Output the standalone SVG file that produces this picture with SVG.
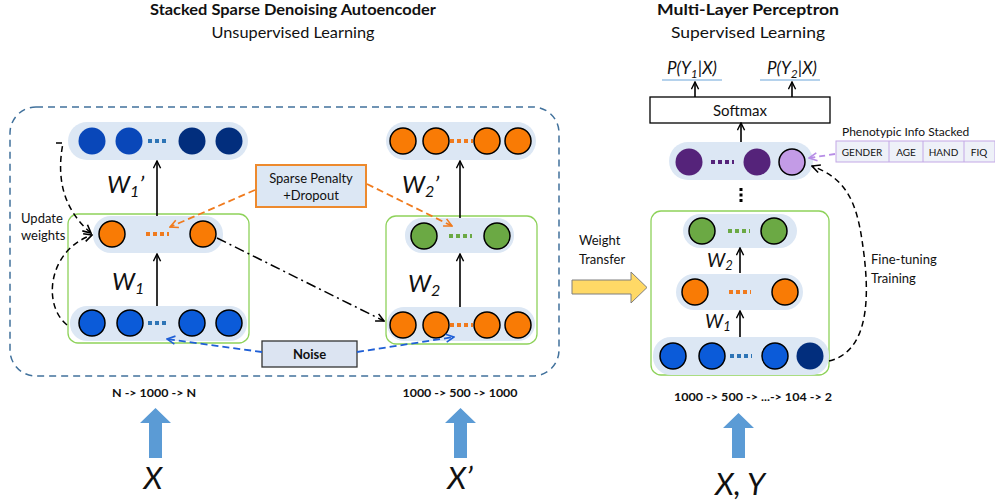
<svg xmlns="http://www.w3.org/2000/svg" width="995" height="502" viewBox="0 0 995 502">
<defs>
<style>
text{font-family:Lato,"Liberation Sans",sans-serif;fill:#111}
.t{font-size:15px;text-anchor:middle}
.b{font-weight:bold}
.s{font-size:13px}
.w{font-style:italic;font-size:24px}
.w2{font-style:italic;font-size:19px}
.row{fill:#dce7f4}
.gbox{fill:none;stroke:#8ed25a;stroke-width:1.3}
.nb{fill:#0b5bd9;stroke:#000;stroke-width:1.5}
.nt{fill:#0947b9}
.nn{fill:#022e7d}
.no{fill:#f97b05;stroke:#000;stroke-width:1.5}
.ng{fill:#6ba944;stroke:#000;stroke-width:1.5}
.arr{stroke:#000;stroke-width:1.6;fill:none}
.dots{stroke-width:4;stroke-dasharray:4 3;fill:none}
.bl{font-size:12px;font-weight:bold;text-anchor:middle}
.X{font-style:italic;font-size:31px;text-anchor:middle}
.bigup{fill:#5b9bd5}
</style>
<marker id="ah" viewBox="0 0 10 10" refX="9" refY="5" markerWidth="9" markerHeight="9" markerUnits="userSpaceOnUse" orient="auto"><path d="M1,1 L9,5 L1,9" fill="none" stroke="#000" stroke-width="1.6"/></marker>
<marker id="ahk" viewBox="0 0 10 10" refX="9" refY="5" markerWidth="10" markerHeight="10" markerUnits="userSpaceOnUse" orient="auto"><path d="M1,1 L9,5 L1,9" fill="none" stroke="#000" stroke-width="1.6"/></marker>
<marker id="aho" viewBox="0 0 10 10" refX="9" refY="5" markerWidth="10" markerHeight="10" markerUnits="userSpaceOnUse" orient="auto"><path d="M1,1 L9,5 L1,9" fill="none" stroke="#f07b1e" stroke-width="1.6"/></marker>
<marker id="ahb" viewBox="0 0 10 10" refX="9" refY="5" markerWidth="10" markerHeight="10" markerUnits="userSpaceOnUse" orient="auto"><path d="M1,1 L9,5 L1,9" fill="none" stroke="#1f5fd6" stroke-width="1.6"/></marker>
<marker id="ahp" viewBox="0 0 10 10" refX="9" refY="5" markerWidth="10" markerHeight="10" markerUnits="userSpaceOnUse" orient="auto"><path d="M1,1 L9,5 L1,9" fill="none" stroke="#b78de6" stroke-width="1.6"/></marker>
</defs>
<rect width="995" height="502" fill="#fff"/>

<g id="titles">
<text class="t b" x="293" y="15" textLength="286" lengthAdjust="spacingAndGlyphs">Stacked Sparse Denoising Autoencoder</text>
<text class="t" x="293" y="38" textLength="163" lengthAdjust="spacingAndGlyphs">Unsupervised Learning</text>
<text class="t b" x="748" y="15" textLength="182" lengthAdjust="spacingAndGlyphs">Multi-Layer Perceptron</text>
<text class="t" x="748" y="38" textLength="154" lengthAdjust="spacingAndGlyphs">Supervised Learning</text>
</g>

<g id="ssda-frame">
<rect x="10" y="107" width="549" height="269" rx="26" fill="none" stroke="#41719c" stroke-width="1.5" stroke-dasharray="7 5"/>
</g>

<g id="ae1-output">
<rect class="row" x="68" y="122" width="180" height="38" rx="19"/>
<circle class="nt" cx="92" cy="141" r="13.5"/>
<circle class="nt" cx="129" cy="141" r="13.5"/>
<line class="dots" x1="148" y1="141" x2="169" y2="141" stroke="#2e75b6"/>
<circle class="nn" cx="192" cy="141" r="13.5"/>
<circle class="nn" cx="229" cy="141" r="13.5"/>
</g>

<g id="ae1-box">
<rect class="gbox" x="68" y="214" width="181" height="129" rx="10"/>
<rect class="row" x="93" y="216" width="130" height="37" rx="18"/>
<circle class="no" cx="112" cy="234" r="13"/>
<line class="dots" x1="146" y1="234" x2="169" y2="234" stroke="#f07b1e"/>
<circle class="no" cx="203" cy="234" r="13"/>
<rect class="row" x="70" y="306" width="177" height="35" rx="17"/>
<circle class="nb" cx="92" cy="323" r="13"/>
<circle class="nb" cx="130" cy="323" r="13"/>
<line class="dots" x1="148" y1="323" x2="169" y2="323" stroke="#2e75b6"/>
<circle class="nb" cx="192" cy="323" r="13"/>
<circle class="nb" cx="229" cy="323" r="13"/>
</g>

<g id="ae2-output">
<rect class="row" x="386" y="122" width="150" height="38" rx="19"/>
<circle class="no" cx="403" cy="141" r="13"/>
<circle class="no" cx="436" cy="141" r="13"/>
<line class="dots" x1="450" y1="141" x2="473" y2="141" stroke="#f07b1e"/>
<circle class="no" cx="487" cy="141" r="13"/>
<circle class="no" cx="518" cy="141" r="13"/>
</g>

<g id="ae2-box">
<rect class="gbox" x="386" y="216" width="151" height="128" rx="10"/>
<rect class="row" x="405" y="218" width="109" height="35" rx="17"/>
<circle class="ng" cx="424" cy="236" r="13"/>
<line class="dots" x1="449" y1="236" x2="472" y2="236" stroke="#6ba944"/>
<circle class="ng" cx="497" cy="236" r="13"/>
<rect class="row" x="387" y="307" width="148" height="34" rx="17"/>
<circle class="no" cx="403" cy="325" r="13"/>
<circle class="no" cx="436" cy="325" r="13"/>
<line class="dots" x1="450" y1="325" x2="473" y2="325" stroke="#f07b1e"/>
<circle class="no" cx="487" cy="325" r="13"/>
<circle class="no" cx="518" cy="325" r="13"/>
</g>

<g id="sparse-penalty">
<rect x="256" y="165" width="110" height="42" fill="#dce7f4" stroke="#ed8a2e" stroke-width="2"/>
<text class="s" x="311" y="183" text-anchor="middle">Sparse Penalty</text>
<text class="s" x="311" y="200" text-anchor="middle">+Dropout</text>
</g>

<g id="noise">
<rect x="262" y="341" width="95" height="26" fill="#dce4f2" stroke="#333" stroke-width="1.3"/>
<text class="s b" x="309.5" y="359" text-anchor="middle">Noise</text>
</g>

<g id="mlp-top">
<rect x="650" y="97" width="180" height="26" fill="#fff" stroke="#000" stroke-width="1.3"/>
<text x="740" y="116" text-anchor="middle" font-size="15">Softmax</text>
<text x="692" y="74" text-anchor="middle" font-size="17" font-style="italic">P(Y<tspan font-size="12" dy="4">1</tspan><tspan dy="-4">|X)</tspan></text>
<line x1="662" y1="80" x2="722" y2="80" stroke="#9dc3e6" stroke-width="1.3"/>
<text x="792" y="74" text-anchor="middle" font-size="17" font-style="italic">P(Y<tspan font-size="12" dy="4">2</tspan><tspan dy="-4">|X)</tspan></text>
<line x1="760" y1="80" x2="820" y2="80" stroke="#9dc3e6" stroke-width="1.3"/>
</g>

<g id="mlp-pheno">
<rect class="row" x="669" y="142" width="144" height="38" rx="19"/>
<circle cx="689" cy="162" r="13.5" fill="#55237a"/>
<line class="dots" x1="711" y1="162" x2="734" y2="162" stroke="#55237a"/>
<circle cx="757" cy="162" r="13.5" fill="#55237a"/>
<circle cx="792" cy="162" r="13" fill="#c39be6" stroke="#000" stroke-width="1.5"/>
<line x1="741" y1="188" x2="741" y2="203" stroke="#000" stroke-width="3" stroke-dasharray="3 2.5"/>
</g>

<g id="pheno-table">
<text x="842" y="136" font-size="12">Phenotypic Info Stacked</text>
<rect x="836" y="141" width="159" height="21" fill="#eef1f8" stroke="#c3a8e6" stroke-width="1"/>
<line x1="889" y1="141" x2="889" y2="162" stroke="#c3a8e6"/>
<line x1="923" y1="141" x2="923" y2="162" stroke="#c3a8e6"/>
<line x1="964" y1="141" x2="964" y2="162" stroke="#c3a8e6"/>
<text x="862" y="156" font-size="10" text-anchor="middle">GENDER</text>
<text x="906" y="156" font-size="10" text-anchor="middle">AGE</text>
<text x="943.5" y="156" font-size="10" text-anchor="middle">HAND</text>
<text x="979" y="156" font-size="10" text-anchor="middle">FIQ</text>
</g>

<g id="mlp-box">
<rect class="gbox" x="651" y="211" width="178" height="164" rx="10"/>
<rect class="row" x="683" y="214" width="114" height="34" rx="17"/>
<circle class="ng" cx="702" cy="231" r="13"/>
<line class="dots" x1="728" y1="231" x2="750" y2="231" stroke="#6ba944"/>
<circle class="ng" cx="774" cy="231" r="13"/>
<rect class="row" x="676" y="274" width="127" height="36" rx="18"/>
<circle class="no" cx="695" cy="292" r="13"/>
<line class="dots" x1="729" y1="292" x2="751" y2="292" stroke="#f07b1e"/>
<circle class="no" cx="785" cy="292" r="13"/>
<rect class="row" x="653" y="337" width="176" height="38" rx="18"/>
<circle class="nb" cx="673" cy="356" r="13"/>
<circle class="nb" cx="712" cy="356" r="13"/>
<line class="dots" x1="730" y1="356" x2="752" y2="356" stroke="#2e75b6"/>
<circle class="nb" cx="775" cy="356" r="13"/>
<circle class="nn" cx="810" cy="356" r="13.5"/>
</g>

<g id="labels">
<text class="w" x="107" y="193">W<tspan font-size="16" dy="4">1</tspan><tspan dy="-4">’</tspan></text>
<text class="w" x="112" y="290">W<tspan font-size="16" dy="4">1</tspan></text>
<text class="w" x="402" y="193">W<tspan font-size="16" dy="4">2</tspan><tspan dy="-4">’</tspan></text>
<text class="w" x="408" y="292">W<tspan font-size="16" dy="4">2</tspan></text>
<text class="w2" x="707" y="267">W<tspan font-size="13" dy="3">2</tspan></text>
<text class="w2" x="705" y="328">W<tspan font-size="13" dy="3">1</tspan></text>
<text class="s" x="21" y="223">Update</text>
<text class="s" x="21" y="240">weights</text>
<text class="s" x="579" y="245">Weight</text>
<text class="s" x="579" y="264">Transfer</text>
<text class="s" x="871" y="264">Fine-tuning</text>
<text class="s" x="871" y="283">Training</text>
<text class="bl" x="154" y="397" textLength="84" lengthAdjust="spacingAndGlyphs">N -&gt; 1000 -&gt; N</text>
<text class="bl" x="460" y="397" textLength="115" lengthAdjust="spacingAndGlyphs">1000 -&gt; 500 -&gt; 1000</text>
<text class="bl" x="753" y="401" textLength="158" lengthAdjust="spacingAndGlyphs">1000 -&gt; 500 -&gt; ...-&gt; 104 -&gt; 2</text>
<text class="X" x="153" y="489">X</text>
<text class="X" x="460" y="489">X’</text>
<text class="X" x="740" y="495">X, Y</text>
</g>

<g id="connectors">
<line class="arr" x1="157" y1="216" x2="157" y2="161" marker-end="url(#ah)"/>
<line class="arr" x1="157" y1="306" x2="157" y2="254" marker-end="url(#ah)"/>
<line class="arr" x1="460" y1="218" x2="460" y2="161" marker-end="url(#ah)"/>
<line class="arr" x1="460" y1="307" x2="460" y2="254" marker-end="url(#ah)"/>
<line class="arr" x1="740" y1="273" x2="740" y2="248" marker-end="url(#ah)"/>
<line class="arr" x1="740" y1="337" x2="740" y2="311" marker-end="url(#ah)"/>
<line class="arr" x1="741" y1="142" x2="741" y2="123" marker-end="url(#ah)"/>
<line class="arr" x1="695" y1="97" x2="695" y2="82" marker-end="url(#ah)"/>
<line class="arr" x1="792" y1="97" x2="792" y2="82" marker-end="url(#ah)"/>
<path d="M56,143 L63,143 Q52,200 91,233" fill="none" stroke="#000" stroke-width="1.5" stroke-dasharray="6 4" marker-end="url(#ahk)"/>
<path d="M67,325 C42,305 48,250 92,235" fill="none" stroke="#000" stroke-width="1.5" stroke-dasharray="6 4" marker-end="url(#ahk)"/>
<line x1="217" y1="238" x2="384" y2="321" stroke="#000" stroke-width="1.5" stroke-dasharray="10 4 2 4" marker-end="url(#ahk)"/>
<line x1="255" y1="190" x2="170" y2="227" stroke="#f07b1e" stroke-width="1.8" stroke-dasharray="7 4" marker-end="url(#aho)"/>
<line x1="367" y1="184" x2="452" y2="226" stroke="#f07b1e" stroke-width="1.8" stroke-dasharray="7 4" marker-end="url(#aho)"/>
<line x1="262" y1="352" x2="167" y2="339" stroke="#1f5fd6" stroke-width="1.8" stroke-dasharray="7 4" marker-end="url(#ahb)"/>
<line x1="357" y1="352" x2="454" y2="337" stroke="#1f5fd6" stroke-width="1.8" stroke-dasharray="7 4" marker-end="url(#ahb)"/>
<line x1="835" y1="154" x2="809" y2="158" stroke="#b78de6" stroke-width="1.8" stroke-dasharray="6 4" marker-end="url(#ahp)"/>
<path d="M829,361 C875,350 868,280 862,240 C856,200 845,178 812,166" fill="none" stroke="#000" stroke-width="1.5" stroke-dasharray="6 4" marker-end="url(#ahk)"/>
<path d="M572,280 L631,280 L631,272 L647,287.5 L631,303 L631,294 L572,294 Z" fill="#ffd966" stroke="#7f7f7f" stroke-width="1"/>
<path d="M149,458 L149,423 L140,423 L155.5,408 L171,423 L162,423 L162,458 Z" class="bigup"/>
<path d="M454,458 L454,423 L445,423 L460.5,408 L476,423 L467,423 L467,458 Z" class="bigup"/>
<path d="M732,458 L732,428 L723,428 L738.5,413 L754,428 L745,428 L745,458 Z" class="bigup"/>
</g>
</svg>
